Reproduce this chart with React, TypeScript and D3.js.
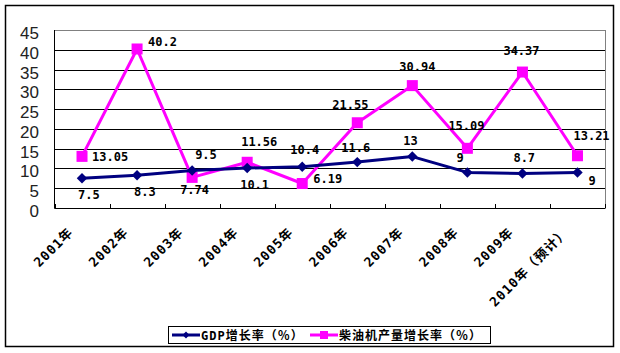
import React, { useEffect, useRef } from 'react';
import * as d3 from 'd3';

// categories and series
const years = ['2001年', '2002年', '2003年', '2004年', '2005年', '2006年', '2007年', '2008年', '2009年', '2010年（预计）'];
const gdpGrowth = [7.5, 8.3, 9.5, 10.1, 10.4, 11.6, 13, 9, 8.7, 9];
const dieselGrowth = [13.05, 40.2, 7.74, 11.56, 6.19, 21.55, 30.94, 15.09, 34.37, 13.21];
const yTicks = [0, 5, 10, 15, 20, 25, 30, 35, 40, 45];
const seriesNames = ['GDP增长率（％）', '柴油机产量增长率（％）'];

// hand-placed data label offsets (px from the point), like the original
const gdpLabelOffset = [[-4, 21], [-3, 21], [3, -11], [-7, 21], [-12, -13], [-16, -10], [-9, -12], [-11, -10], [-9, -12], [11, 13]];
const dieselLabelOffset = [[10, 5], [11, -3], [-12, 17], [-6, -16], [11, -1], [-25, -14], [-13, -15], [-19, -18], [-19, -17], [-4, -16]];

const W = 620;
const H = 353;

const App: React.FC = () => {
  const svgRef = useRef<SVGSVGElement | null>(null);

  useEffect(() => {
    if (!svgRef.current) return;
    const svg = d3.select(svgRef.current);
    svg.selectAll('*').remove();

    const plot = { left: 54.5, right: 605, top: 30, bottom: 208 };
    const labelFont = '"DejaVu Sans Mono", "Noto Sans CJK SC", monospace';

    const x = d3.scaleBand<string>().domain(years).range([plot.left, plot.right]);
    const cx = (i: number) => (x(years[i]) as number) + x.bandwidth() / 2;
    const y = d3.scaleLinear().domain([0, 45]).range([plot.bottom, plot.top]);

    svg.append('rect')
      .attr('width', W).attr('height', H).attr('fill', '#fff');

    // outer chart border
    svg.append('rect')
      .attr('x', 5.5).attr('y', 5.5).attr('width', 608).attr('height', 341)
      .attr('fill', 'none').attr('stroke', '#000').attr('stroke-width', 1.5);

    // gridlines
    svg.append('g')
      .selectAll('line')
      .data(yTicks.filter((t) => t > 0))
      .enter()
      .append('line')
      .attr('x1', plot.left).attr('x2', plot.right)
      .attr('y1', (d) => Math.round(y(d)) + 0.5).attr('y2', (d) => Math.round(y(d)) + 0.5)
      .attr('stroke', (d) => (d === 45 ? '#808080' : '#000'))
      .attr('stroke-width', 1);

    // right border of plot area
    svg.append('line')
      .attr('x1', plot.right + 0.5).attr('x2', plot.right + 0.5)
      .attr('y1', plot.top).attr('y2', plot.bottom)
      .attr('stroke', '#808080');

    // y axis
    svg.append('line')
      .attr('x1', plot.left).attr('x2', plot.left)
      .attr('y1', plot.top).attr('y2', plot.bottom + 0.5)
      .attr('stroke', '#000');
    svg.append('g')
      .selectAll('text')
      .data(yTicks)
      .enter()
      .append('text')
      .attr('x', 39)
      .attr('y', (d) => y(d) + 9)
      .attr('text-anchor', 'end')
      .attr('font-family', '"Liberation Sans", Arial, sans-serif')
      .attr('font-size', 17)
      .attr('fill', '#222')
      .text((d) => d);

    // x axis with inward ticks
    svg.append('line')
      .attr('x1', plot.left).attr('x2', plot.right + 0.5)
      .attr('y1', plot.bottom + 0.5).attr('y2', plot.bottom + 0.5)
      .attr('stroke', '#000');
    svg.append('g')
      .selectAll('line')
      .data(d3.range(years.length + 1))
      .enter()
      .append('line')
      .attr('x1', (i) => Math.round(plot.left + i * x.step()) + 0.5)
      .attr('x2', (i) => Math.round(plot.left + i * x.step()) + 0.5)
      .attr('y1', plot.bottom - 4).attr('y2', plot.bottom)
      .attr('stroke', '#000');

    svg.append('g')
      .selectAll('text')
      .data(years)
      .enter()
      .append('text')
      .attr('transform', (_d, i) => `translate(${cx(i) - 8},${233}) rotate(-45)`)
      .attr('text-anchor', 'end')
      .attr('font-family', labelFont)
      .attr('font-weight', 'bold')
      .attr('font-size', 13)
      .attr('letter-spacing', 1)
      .attr('fill', '#000')
      .text((d) => d);

    const line = d3.line<number>()
      .x((_d, i) => cx(i))
      .y((d) => y(d));

    // diesel engine output growth
    svg.append('path')
      .datum(dieselGrowth)
      .attr('fill', 'none')
      .attr('stroke', '#FF00FF')
      .attr('stroke-width', 3)
      .attr('stroke-linejoin', 'round')
      .attr('d', line);
    svg.append('g')
      .selectAll('rect')
      .data(dieselGrowth)
      .enter()
      .append('rect')
      .attr('x', (_d, i) => cx(i) - 5.5)
      .attr('y', (d) => y(d) - 5.5)
      .attr('width', 11).attr('height', 11)
      .attr('fill', '#FF00FF');

    // GDP growth
    svg.append('path')
      .datum(gdpGrowth)
      .attr('fill', 'none')
      .attr('stroke', '#000080')
      .attr('stroke-width', 3)
      .attr('stroke-linejoin', 'round')
      .attr('d', line);
    const diamond = d3.symbol().type(d3.symbolDiamond2).size(70);
    svg.append('g')
      .selectAll('path')
      .data(gdpGrowth)
      .enter()
      .append('path')
      .attr('transform', (d, i) => `translate(${cx(i)},${y(d)})`)
      .attr('d', diamond)
      .attr('fill', '#000080');

    // data labels
    const addLabels = (vals: number[], offs: number[][]) => {
      svg.append('g')
        .selectAll('text')
        .data(vals)
        .enter()
        .append('text')
        .attr('x', (_d, i) => cx(i) + offs[i][0])
        .attr('y', (d, i) => y(d) + offs[i][1])
        .attr('font-family', labelFont)
        .attr('font-weight', 'bold')
        .attr('font-size', 12)
        .attr('fill', '#000')
        .text((d) => String(d));
    };
    addLabels(dieselGrowth, dieselLabelOffset);
    addLabels(gdpGrowth, gdpLabelOffset);

    // legend
    const lg = svg.append('g');
    lg.append('rect')
      .attr('x', 168.5).attr('y', 326.5).attr('width', 322).attr('height', 17)
      .attr('fill', '#fff').attr('stroke', '#000');
    const legendItems = [
      { name: seriesNames[0], color: '#000080', x0: 172, shape: 'diamond' },
      { name: seriesNames[1], color: '#FF00FF', x0: 310, shape: 'square' },
    ];
    legendItems.forEach((it) => {
      lg.append('line')
        .attr('x1', it.x0).attr('x2', it.x0 + 28)
        .attr('y1', 335).attr('y2', 335)
        .attr('stroke', it.color).attr('stroke-width', 3);
      if (it.shape === 'diamond') {
        lg.append('path')
          .attr('transform', `translate(${it.x0 + 14},335)`)
          .attr('d', d3.symbol().type(d3.symbolDiamond2).size(30))
          .attr('fill', it.color);
      } else {
        lg.append('rect')
          .attr('x', it.x0 + 10).attr('y', 331).attr('width', 8).attr('height', 8)
          .attr('fill', it.color);
      }
      lg.append('text')
        .attr('x', it.x0 + 29)
        .attr('y', 339.5)
        .attr('font-family', labelFont)
        .attr('font-weight', 'bold')
        .attr('font-size', 12)
        .attr('letter-spacing', 1)
        .attr('fill', '#000')
        .text(it.name);
    });
  }, []);

  return (
    <svg
      ref={svgRef}
      width={W}
      height={H}
      style={{ position: 'absolute', left: 0, top: 0, display: 'block' }}
    />
  );
};

export default App;
